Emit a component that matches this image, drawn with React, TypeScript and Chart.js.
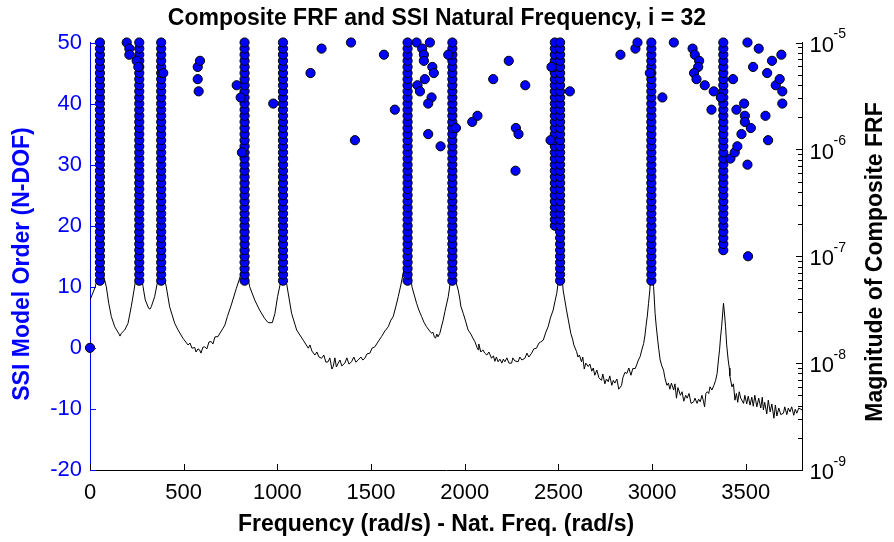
import React, { useEffect, useRef } from 'react';
import { Chart, registerables } from 'chart.js';

Chart.register(...registerables);

const FONT = '"Liberation Sans", Arial, Helvetica, sans-serif';

// ---------------- DATA ----------------
const xTickValues = [0, 500, 1000, 1500, 2000, 2500, 3000, 3500];
const leftTickValues = [-20, -10, 0, 10, 20, 30, 40, 50];
const rightTickExponents = [-9, -8, -7, -6, -5];

// Stable SSI pole columns (frequency, lowest model order up to maxOrder)
const stableFreqs = [53, 263, 380, 825, 1030, 1695, 1934, 2481, 2509, 2996, 3380];
const stableMinOrders = [11, 11, 11, 11, 11, 11, 11, 20, 11, 11, 16];
const maxOrder = 50;

// Unstable / scattered SSI poles
const scatterFreqs = [
  0, 196, 210, 210, 249, 258, 391, 575, 587, 575, 580, 783, 804, 811, 978,
  1177, 1236, 1393, 1414, 1569, 1627, 1743, 1773, 1782, 1782, 1814, 1827, 1835, 1787, 1748,
  1761, 1823, 1805, 1805, 1871, 1912, 1953, 2040, 2068, 2152, 2235, 2323, 2273, 2287, 2271,
  2463, 2458, 2561, 2831, 2911, 2922, 2988, 3055, 3116, 3216, 3228, 3251, 3246, 3224, 3237,
  3281, 3329, 3317, 3367, 3432, 3450, 3418, 3441, 3455, 3477, 3491, 3495, 3495, 3527, 3509,
  3509, 3539, 3569, 3605, 3614, 3619, 3640, 3660, 3681, 3690, 3695, 3695, 3512,
];
const scatterOrders = [
  0, 50, 49, 48, 47, 46, 45, 46, 47, 44, 42, 43, 41, 32, 40,
  45, 49, 50, 34, 48, 39, 50, 49, 48, 47, 50, 46, 45, 44, 43,
  42, 41, 40, 35, 33, 48, 36, 37, 38, 44, 47, 43, 36, 35, 29,
  46, 34, 42, 48, 49, 50, 45, 41, 50, 49, 48, 47, 46, 45, 44,
  43, 42, 39, 41, 44, 39, 31, 32, 33, 35, 40, 38, 37, 36, 50,
  30, 46, 49, 38, 45, 34, 47, 43, 44, 48, 42, 40, 15,
];

// Composite FRF magnitude
const frfFreq = [
  0, 27, 37, 43, 50, 57, 64, 71, 87, 100, 114, 132, 153, 160, 167, 185, 203, 220, 235, 248,
  256, 263, 270, 277, 283, 295, 313, 320, 327, 345, 357, 368, 374, 380, 386, 392, 407, 425, 452, 470,
  496, 523, 534, 544, 559, 566, 576, 585, 592, 603, 612, 624, 635, 647, 656, 667, 683, 694, 710, 720,
  733, 754, 781, 807, 816, 825, 835, 843, 852, 879, 905, 932, 951, 973, 987, 1001, 1014, 1022, 1031, 1042,
  1055, 1076, 1103, 1138, 1165, 1174, 1184, 1200, 1211, 1222, 1236, 1248, 1259, 1271, 1280, 1291, 1298, 1307, 1315, 1325,
  1334, 1344, 1360, 1371, 1382, 1396, 1408, 1419, 1431, 1446, 1456, 1467, 1478, 1494, 1505, 1520, 1537, 1556, 1574, 1592,
  1606, 1618, 1633, 1645, 1659, 1670, 1683, 1695, 1707, 1712, 1718, 1743, 1755, 1770, 1782, 1796, 1809, 1823, 1830, 1838,
  1844, 1851, 1857, 1867, 1878, 1885, 1894, 1912, 1921, 1926, 1934, 1942, 1953, 1965, 1974, 1979, 1992, 2006, 2018, 2033,
  2043, 2054, 2065, 2072, 2075, 2086, 2097, 2107, 2118, 2129, 2143, 2153, 2161, 2169, 2178, 2188, 2198, 2206, 2214, 2225,
  2236, 2250, 2257, 2267, 2285, 2294, 2305, 2321, 2332, 2342, 2357, 2369, 2383, 2396, 2406, 2419, 2433, 2445, 2457, 2472,
  2481, 2491, 2497, 2502, 2510, 2518, 2525, 2534, 2543, 2553, 2566, 2577, 2582, 2597, 2604, 2612, 2623, 2630, 2638, 2646,
  2659, 2668, 2678, 2686, 2694, 2705, 2716, 2730, 2737, 2748, 2756, 2766, 2774, 2785, 2793, 2801, 2812, 2822, 2837, 2844,
  2855, 2865, 2876, 2887, 2897, 2910, 2919, 2927, 2936, 2945, 2955, 2962, 2967, 2975, 2981, 2988, 2993, 2999, 3004, 3008,
  3012, 3016, 3022, 3030, 3036, 3043, 3052, 3061, 3068, 3079, 3087, 3095, 3103, 3115, 3122, 3130, 3138, 3151, 3160, 3169,
  3179, 3187, 3197, 3208, 3222, 3229, 3240, 3248, 3257, 3266, 3274, 3280, 3287, 3295, 3302, 3309, 3319, 3330, 3339, 3347,
  3354, 3360, 3365, 3371, 3376, 3381, 3387, 3392, 3398, 3406, 3412, 3415, 3426, 3434, 3442, 3450, 3457, 3465, 3473, 3488,
  3495, 3505, 3513, 3523, 3532, 3540, 3548, 3559, 3569, 3580, 3588, 3594, 3601, 3612, 3620, 3630, 3639, 3650, 3658, 3666,
  3676, 3687, 3701, 3708, 3719, 3727, 3736, 3745, 3756, 3764, 3772, 3783, 3800,
];
const frfMag = [
  3.9e-8, 5.1e-8, 6.0e-8, 6.7e-8, 1.0e-7, 2.0e-7, 1.0e-7, 6.7e-8, 5.2e-8, 3.63e-8, 2.72e-8, 2.19e-8, 1.9e-8, 1.79e-8, 1.9e-8, 2.04e-8, 2.36e-8, 3.37e-8, 4.83e-8, 6.7e-8,
  1.0e-7, 1.6e-7, 1.0e-7, 6.25e-8, 5.2e-8, 3.9e-8, 3.26e-8, 3.2e-8, 3.37e-8, 4.18e-8, 5.38e-8, 6.7e-8, 1.0e-7, 1.8e-7, 1.0e-7, 6.7e-8, 5.2e-8, 3.37e-8, 2.36e-8, 2.04e-8,
  1.71e-8, 1.48e-8, 1.54e-8, 1.38e-8, 1.4e-8, 1.27e-8, 1.36e-8, 1.33e-8, 1.24e-8, 1.41e-8, 1.42e-8, 1.36e-8, 1.58e-8, 1.59e-8, 1.51e-8, 1.76e-8, 1.77e-8, 1.91e-8, 2.12e-8, 2.27e-8,
  2.72e-8, 3.5e-8, 5.0e-8, 6.9e-8, 8.3e-8, 2.0e-7, 8.3e-8, 6.25e-8, 5.2e-8, 3.9e-8, 3.14e-8, 2.62e-8, 2.39e-8, 2.39e-8, 2.92e-8, 4.18e-8, 5.38e-8, 6.7e-8, 2.0e-7, 6.7e-8,
  4.83e-8, 2.92e-8, 2.04e-8, 1.64e-8, 1.38e-8, 1.48e-8, 1.3e-8, 1.19e-8, 1.27e-8, 1.14e-8, 1.11e-8, 1.19e-8, 1.02e-8, 1.03e-8, 1.12e-8, 8.8e-9, 9.3e-9, 1.12e-8, 9.2e-9, 1.0e-8,
  1.07e-8, 9.4e-9, 1.0e-8, 1.12e-8, 9.8e-9, 1.03e-8, 1.14e-8, 1.02e-8, 1.07e-8, 1.14e-8, 1.07e-8, 1.11e-8, 1.22e-8, 1.24e-8, 1.38e-8, 1.42e-8, 1.58e-8, 1.77e-8, 2.0e-8, 2.19e-8,
  2.53e-8, 2.72e-8, 3.42e-8, 4.18e-8, 5.38e-8, 6.7e-8, 8.8e-8, 2.4e-7, 8.8e-8, 6.7e-8, 5.2e-8, 3.63e-8, 3.14e-8, 2.72e-8, 2.42e-8, 2.19e-8, 2.04e-8, 1.9e-8, 1.95e-8, 1.76e-8,
  1.71e-8, 1.87e-8, 1.76e-8, 1.9e-8, 2.27e-8, 2.53e-8, 3.03e-8, 4.18e-8, 5.38e-8, 7.1e-8, 2.2e-7, 7.1e-8, 5.75e-8, 4.83e-8, 3.97e-8, 3.42e-8, 2.92e-8, 2.42e-8, 2.04e-8, 1.87e-8,
  1.72e-8, 1.59e-8, 1.41e-8, 1.33e-8, 1.51e-8, 1.27e-8, 1.33e-8, 1.24e-8, 1.19e-8, 1.27e-8, 1.11e-8, 1.17e-8, 1.04e-8, 1.14e-8, 1.03e-8, 1.09e-8, 1.0e-8, 1.09e-8, 1.03e-8, 1.12e-8,
  1.0e-8, 1.0e-8, 1.12e-8, 1.05e-8, 1.03e-8, 1.14e-8, 1.07e-8, 1.11e-8, 1.24e-8, 1.14e-8, 1.24e-8, 1.36e-8, 1.38e-8, 1.54e-8, 1.58e-8, 1.64e-8, 1.95e-8, 2.19e-8, 2.64e-8, 3.14e-8,
  3.74e-8, 4.5e-8, 5.38e-8, 7.1e-8, 2.4e-7, 7.1e-8, 4.83e-8, 3.9e-8, 3.14e-8, 2.53e-8, 1.9e-8, 1.64e-8, 1.48e-8, 1.28e-8, 1.14e-8, 1.19e-8, 1.03e-8, 1.14e-8, 8.8e-9, 1.0e-8,
  9.3e-9, 9.8e-9, 8.4e-9, 9.0e-9, 7.7e-9, 8.6e-9, 7.3e-9, 6.9e-9, 7.9e-9, 6.4e-9, 7.1e-9, 6.7e-9, 7.6e-9, 6.2e-9, 6.9e-9, 6.5e-9, 7.1e-9, 5.7e-9, 6.2e-9, 7.3e-9,
  8.2e-9, 8.0e-9, 9.0e-9, 7.7e-9, 8.9e-9, 8.9e-9, 9.8e-9, 1.07e-8, 1.15e-8, 1.33e-8, 1.53e-8, 1.83e-8, 2.19e-8, 2.82e-8, 3.63e-8, 4.83e-8, 7.1e-8, 2.0e-7, 7.1e-8, 5.2e-8,
  3.9e-8, 2.92e-8, 2.22e-8, 1.64e-8, 1.33e-8, 1.07e-8, 9.4e-9, 8.6e-9, 7.3e-9, 6.2e-9, 6.5e-9, 5.7e-9, 6.5e-9, 5.6e-9, 6.4e-9, 4.7e-9, 5.9e-9, 5.0e-9, 5.4e-9, 4.4e-9,
  5.0e-9, 4.7e-9, 5.2e-9, 4.2e-9, 4.35e-9, 4.7e-9, 4.2e-9, 4.6e-9, 4.35e-9, 5.0e-9, 4.4e-9, 3.9e-9, 5.2e-9, 5.4e-9, 5.2e-9, 6.0e-9, 5.6e-9, 6.2e-9, 6.9e-9, 8.0e-9,
  1.07e-8, 1.33e-8, 1.72e-8, 2.19e-8, 2.82e-8, 3.63e-8, 2.82e-8, 2.19e-8, 1.48e-8, 1.07e-8, 9.0e-9, 7.6e-9, 6.0e-9, 6.4e-9, 4.5e-9, 5.2e-9, 4.3e-9, 5.4e-9, 4.7e-9, 4.2e-9,
  5.0e-9, 4.15e-9, 4.9e-9, 4.05e-9, 4.8e-9, 3.95e-9, 5.0e-9, 3.9e-9, 4.7e-9, 3.8e-9, 4.8e-9, 3.65e-9, 4.3e-9, 3.35e-9, 4.5e-9, 3.5e-9, 4.15e-9, 3.05e-9, 4.05e-9, 3.2e-9,
  3.8e-9, 3.3e-9, 3.4e-9, 3.9e-9, 3.3e-9, 3.8e-9, 3.5e-9, 3.9e-9, 3.25e-9, 3.7e-9, 3.4e-9, 3.8e-9, 3.65e-9,
];

const titleText = 'Composite FRF and SSI Natural Frequency, i = 32';
const xTitle = 'Frequency (rad/s) - Nat. Freq. (rad/s)';
const yLeftTitle = 'SSI Model Order (N-DOF)';
const yRightTitle = 'Magnitude of Composite FRF';

// ---------------- CHART ----------------
const decorPlugin = {
  id: 'decor',
  afterDraw(chart: any) {
    const { ctx, chartArea: a, scales } = chart;
    const xs = scales.x;
    const ys = scales.y;
    const yr = scales.y2;
    ctx.save();
    ctx.lineWidth = 1;

    // x ticks (inward)
    ctx.strokeStyle = '#000';
    ctx.beginPath();
    xTickValues.forEach((v) => {
      const px = Math.round(xs.getPixelForValue(v)) + 0.5;
      ctx.moveTo(px, a.bottom);
      ctx.lineTo(px, a.bottom - 6);
    });
    ctx.stroke();

    // left ticks (inward, blue)
    ctx.strokeStyle = '#0000ff';
    ctx.beginPath();
    leftTickValues.forEach((v) => {
      const py = Math.round(ys.getPixelForValue(v)) + 0.5;
      ctx.moveTo(a.left, py);
      ctx.lineTo(a.left + 6, py);
    });
    ctx.stroke();

    // right log ticks
    ctx.strokeStyle = '#000';
    ctx.beginPath();
    rightTickExponents.forEach((e, i) => {
      const py = Math.round(yr.getPixelForValue(Math.pow(10, e))) + 0.5;
      ctx.moveTo(a.right, py);
      ctx.lineTo(a.right - 6, py);
      if (i < rightTickExponents.length - 1) {
        for (let m = 2; m <= 9; m++) {
          const pm = Math.round(yr.getPixelForValue(m * Math.pow(10, e))) + 0.5;
          ctx.moveTo(a.right, pm);
          ctx.lineTo(a.right - 4, pm);
        }
      }
    });
    ctx.stroke();

    // right tick labels 10^e
    ctx.fillStyle = '#000';
    rightTickExponents.forEach((e) => {
      const py = yr.getPixelForValue(Math.pow(10, e));
      ctx.font = `22px ${FONT}`;
      ctx.textAlign = 'left';
      ctx.textBaseline = 'alphabetic';
      ctx.fillText('10', a.right + 7.5, py + 9.2);
      ctx.font = `14px ${FONT}`;
      ctx.fillText(String(e), a.right + 31.5, py - 4.2);
    });

    // title
    ctx.fillStyle = '#000';
    ctx.font = `bold 23px ${FONT}`;
    ctx.textAlign = 'center';
    ctx.textBaseline = 'alphabetic';
    ctx.fillText(titleText, 437, 24.5);

    // x title
    ctx.fillText(xTitle, 436, 531);

    // left y title
    ctx.save();
    ctx.translate(23, 264);
    ctx.rotate(-Math.PI / 2);
    ctx.fillStyle = '#0000ff';
    ctx.textBaseline = 'middle';
    ctx.fillText(yLeftTitle, 0, 0);
    ctx.restore();

    // right y title
    ctx.save();
    ctx.translate(876, 262);
    ctx.rotate(-Math.PI / 2);
    ctx.fillStyle = '#000';
    ctx.textBaseline = 'middle';
    ctx.fillText(yRightTitle, 0, 0);
    ctx.restore();

    ctx.restore();
  },
};

export default function App() {
  const canvasRef = useRef<HTMLCanvasElement>(null);

  useEffect(() => {
    const canvas = canvasRef.current;
    if (!canvas) return;

    const polePoints: { x: number; y: number }[] = [];
    stableFreqs.forEach((f, i) => {
      for (let o = stableMinOrders[i]; o <= maxOrder; o++) polePoints.push({ x: f, y: o });
    });
    scatterFreqs.forEach((f, i) => polePoints.push({ x: f, y: scatterOrders[i] }));

    const frfPoints = frfFreq.map((f, i) => ({ x: f, y: frfMag[i] }));

    const chart = new Chart(canvas, {
      type: 'scatter',
      data: {
        datasets: [
          {
            label: 'SSI poles',
            data: polePoints,
            xAxisID: 'x',
            yAxisID: 'y',
            backgroundColor: '#0000ff',
            borderColor: '#000000',
            borderWidth: 1,
            pointRadius: 4.6,
            pointStyle: 'circle',
            showLine: false,
            clip: false as any,
            order: 0,
          },
          {
            label: 'Composite FRF',
            data: frfPoints,
            xAxisID: 'x',
            yAxisID: 'y2',
            borderColor: '#000000',
            backgroundColor: '#000000',
            borderWidth: 1,
            pointRadius: 0,
            showLine: true,
            tension: 0,
            order: 1,
          } as any,
        ],
      },
      options: {
        responsive: false,
        animation: false,
        devicePixelRatio: 1,
        layout: { padding: { top: 42.5, left: 0, right: 0, bottom: 0 } },
        plugins: {
          legend: { display: false },
          tooltip: { enabled: false },
          title: { display: false },
        },
        scales: {
          x: {
            type: 'linear',
            position: 'bottom',
            min: 0,
            max: 3800,
            grid: { display: false, drawTicks: false },
            border: { display: true, color: '#000000', width: 1 },
            ticks: {
              color: '#000000',
              font: { size: 22, family: FONT },
              padding: 10,
              maxRotation: 0,
              autoSkip: false,
              callback: (v: any) => String(v),
            },
            afterBuildTicks: (s: any) => {
              s.ticks = xTickValues.map((v) => ({ value: v }));
            },
            afterFit: (s: any) => {
              s.height = 72;
            },
          },
          y: {
            type: 'linear',
            position: 'left',
            min: -20,
            max: 50,
            grid: { display: false, drawTicks: false },
            border: { display: true, color: '#0000ff', width: 1 },
            ticks: {
              color: '#0000ff',
              font: { size: 22, family: FONT },
              padding: 8,
              autoSkip: false,
              callback: (v: any) => String(v),
            },
            afterBuildTicks: (s: any) => {
              s.ticks = leftTickValues.map((v) => ({ value: v }));
            },
            afterFit: (s: any) => {
              s.width = 90;
            },
          },
          y2: {
            type: 'logarithmic',
            position: 'right',
            min: 1e-9,
            max: 1e-5,
            grid: { display: false, drawTicks: false },
            border: { display: true, color: '#000000', width: 1 },
            ticks: { display: false },
            afterFit: (s: any) => {
              s.width = 92;
            },
          },
        },
      } as any,
      plugins: [decorPlugin],
    });

    return () => chart.destroy();
  }, []);

  return (
    <div style={{ position: 'absolute', left: 0, top: 0, width: 894, height: 542, background: '#ffffff' }}>
      <canvas ref={canvasRef} width={894} height={542} style={{ display: 'block', width: 894, height: 542 }} />
    </div>
  );
}
